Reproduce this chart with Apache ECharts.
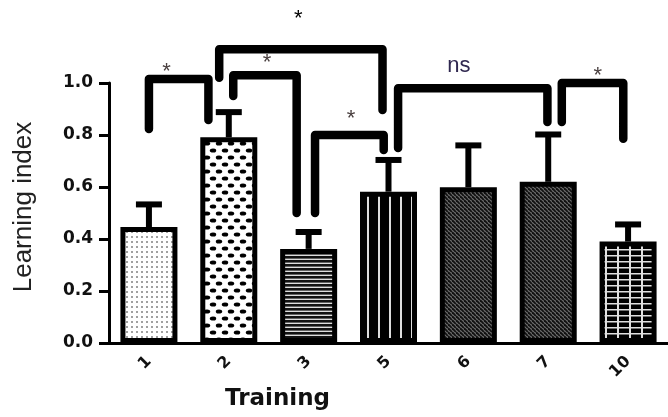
<!DOCTYPE html>
<html><head><meta charset="utf-8">
<script src="https://cdn.jsdelivr.net/npm/echarts@6/dist/echarts.min.js"></script>
<style>html,body{margin:0;padding:0;background:#fff}#c{width:668px;height:417px}</style>
</head><body><div id="c"></div>
<script>
// ---- data ----
const categories = ['1', '2', '3', '5', '6', '7', '10'];
const means = [0.446, 0.791, 0.362, 0.582, 0.599, 0.62, 0.39];
const sems = [0.087, 0.097, 0.065, 0.122, 0.161, 0.182, 0.066];
const yTicks = [0.0, 0.2, 0.4, 0.6, 0.8, 1.0];
// significance brackets (x in category-index units, y in axis values)
const bracketLeftX = [0.0, 0.88, 1.056, 2.08, 3.12, 5.17];
const bracketRightX = [0.745, 2.925, 1.85, 2.94, 4.99, 5.94];
const bracketTopY = [1.015, 1.13, 1.03, 0.80, 0.98, 1.0];
const bracketLeftEndY = [0.823, 1.02, 0.95, 0.50, 0.75, 0.85];
const bracketRightEndY = [0.858, 0.896, 0.50, 0.742, 0.85, 0.786];
const bracketLabels = ['*', '*', '*', '*', 'ns', '*'];
const labelX = [0.22, 1.87, 1.48, 2.53, 3.88, 5.62];
const labelY = [1.065, 1.27, 1.1, 0.885, 1.065, 1.05];

// ---- patterns ----
function mk(w, h, draw) {
  const c = document.createElement('canvas');
  c.width = w; c.height = h;
  const g = c.getContext('2d');
  draw(g, w, h);
  return { image: c, repeat: 'repeat' };
}
function hatch(g) {
  g.fillStyle = '#6e6e6e'; g.fillRect(0, 0, 4, 4); g.strokeStyle = '#111'; g.lineWidth = 1.9;
  [-4, 0, 4].forEach((a) => { g.beginPath(); g.moveTo(a, 0); g.lineTo(a + 4, 4); g.stroke(); });
}
const patterns = [
  mk(5, 5, (g) => { g.fillStyle = '#fff'; g.fillRect(0, 0, 5, 5); g.fillStyle = '#a0a0a0'; g.fillRect(1, 1, 2, 2); }),
  mk(12, 14, (g) => {
    g.fillStyle = '#fff'; g.fillRect(0, 0, 12, 14); g.fillStyle = '#000';
    [[3, 3.5], [9, 10.5], [15, 3.5], [-3, 10.5]].forEach(([x, y]) => { g.beginPath(); g.ellipse(x, y, 3.2, 2.1, 0, 0, Math.PI * 2); g.fill(); });
  }),
  mk(4, 4, (g) => { g.fillStyle = '#ddd'; g.fillRect(0, 0, 4, 4); g.fillStyle = '#111'; g.fillRect(0, 0, 4, 2.6); }),
  mk(11, 4, (g) => { g.fillStyle = '#000'; g.fillRect(0, 0, 11, 4); g.fillStyle = '#ddd'; g.fillRect(4, 0, 2, 4); }),
  mk(4, 4, hatch),
  mk(4, 4, hatch),
  mk(12, 6, (g) => { g.fillStyle = '#000'; g.fillRect(0, 0, 12, 6); g.fillStyle = '#e0e0e0'; g.fillRect(5, 0, 2, 6); g.fillRect(0, 3, 12, 1.5); })
];

const chart = echarts.init(document.getElementById('c'), null, { renderer: 'canvas' });
const axisColor = '#000';
chart.setOption({
  animation: false,
  backgroundColor: '#fff',
  grid: { left: 109, top: 83, width: 565, height: 260 },
  xAxis: [
    {
      type: 'category', data: categories,
      axisLine: { lineStyle: { color: axisColor, width: 3 } },
      axisTick: { alignWithLabel: true, length: 5, lineStyle: { color: axisColor, width: 3 } },
      axisLabel: { rotate: 45, margin: 16, color: '#111', fontFamily: 'DejaVu Sans', fontWeight: 'bold', fontSize: 16 },
      name: 'Training', nameLocation: 'middle', nameGap: 45,
      nameTextStyle: { color: '#111', fontFamily: 'DejaVu Sans', fontWeight: 'bold', fontSize: 23, padding: [0, 222, 0, 0] }
    },
    { type: 'value', min: -0.5, max: 6.5, show: false }
  ],
  yAxis: {
    type: 'value', min: 0, max: 1, interval: 0.2,
    axisLine: { show: true, onZero: false, lineStyle: { color: axisColor, width: 3 } },
    axisTick: { show: true, length: 10, lineStyle: { color: axisColor, width: 3 } },
    splitLine: { show: false },
    axisLabel: {
      margin: 16, color: '#111', fontFamily: 'DejaVu Sans', fontWeight: 'bold', fontSize: 17,
      formatter: (v) => (yTicks.some(t => Math.abs(t - v) < 1e-9) ? v.toFixed(1) : '')
    },
    name: 'Learning index', nameLocation: 'middle', nameGap: 72,
    nameTextStyle: { color: '#222', fontFamily: 'Liberation Sans', fontSize: 26, padding: [0, 0, 0, 12] }
  },
  series: [
    {
      type: 'bar', barWidth: 57, z: 2,
      itemStyle: { borderColor: '#000', borderWidth: 5 },
      data: means.map((v, i) => ({ value: v, itemStyle: { color: patterns[i] } }))
    },
    {
      type: 'custom', xAxisIndex: 0, yAxisIndex: 0, z: 3,
      encode: { x: 0, y: [1, 2] },
      data: means.map((m, i) => [i, m, m + sems[i]]),
      renderItem: (params, api) => {
        const i = api.value(0);
        const p0 = api.coord([i, api.value(1)]);
        const p1 = api.coord([i, api.value(2)]);
        return {
          type: 'group', children: [
            { type: 'line', shape: { x1: p0[0], y1: p0[1], x2: p1[0], y2: p1[1] }, style: { stroke: '#000', lineWidth: 6 } },
            { type: 'line', shape: { x1: p1[0] - 13, y1: p1[1], x2: p1[0] + 13, y2: p1[1] }, style: { stroke: '#000', lineWidth: 6 } }
          ]
        };
      }
    },
    {
      type: 'custom', xAxisIndex: 1, yAxisIndex: 0, z: 4, clip: false,
      encode: { x: [0, 1], y: [2, 3, 4] },
      data: bracketLeftX.map((l, i) => [l, bracketRightX[i], bracketTopY[i], bracketLeftEndY[i], bracketRightEndY[i]]),
      renderItem: (params, api) => {
        const a = api.coord([api.value(0), api.value(3)]);
        const b = api.coord([api.value(0), api.value(2)]);
        const c = api.coord([api.value(1), api.value(2)]);
        const d = api.coord([api.value(1), api.value(4)]);
        return {
          type: 'polyline', shape: { points: [a, b, c, d] },
          style: { stroke: '#000', lineWidth: 8.5, lineCap: 'round', lineJoin: 'round', fill: null }
        };
      }
    },
    {
      type: 'custom', xAxisIndex: 1, yAxisIndex: 0, z: 5, clip: false,
      encode: { x: 0, y: 1 },
      data: labelX.map((x, i) => [x, labelY[i]]),
      renderItem: (params, api) => {
        const i = params.dataIndex;
        const p = api.coord([api.value(0), api.value(1)]);
        const t = bracketLabels[i];
        const ns = t === 'ns';
        const big = i === 1;
        return {
          type: 'text', x: p[0], y: p[1] + (ns ? 0 : 6),
          style: {
            text: t, align: 'center', verticalAlign: 'middle',
            fontFamily: 'Liberation Sans', fontSize: 22,
            fill: ns ? '#302850' : (big ? '#000' : '#4a4040')
          }
        };
      }
    }
  ]
});
</script></body></html>
